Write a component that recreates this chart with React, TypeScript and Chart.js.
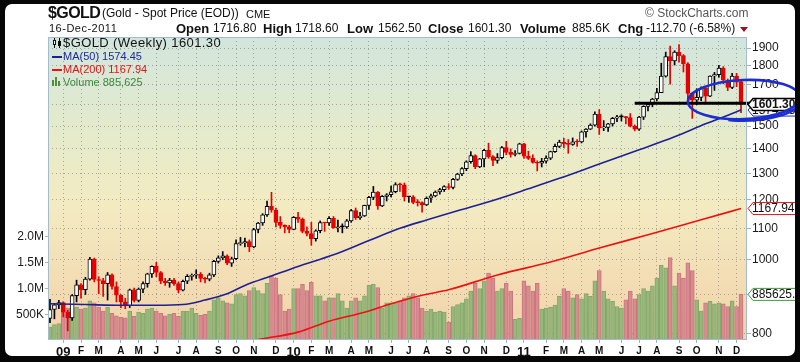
import React, { useEffect, useRef } from 'react';
import { Chart, registerables } from 'chart.js';

Chart.register(...registerables);

// ---- Weekly $GOLD data (week index 0 = 19-Dec-2008 ... 156 = 16-Dec-2011) ----
const OPEN = [
  837, 860, 872, 878, 853, 838, 897, 927, 913, 943,
  1002, 942, 939, 930, 955, 922, 898, 880, 870, 913,
  884, 915, 930, 958, 980, 962, 937, 932, 940, 930,
  912, 937, 951, 954, 957, 945, 943, 955, 995, 1006,
  1012, 990, 1003, 1050, 1052, 1057, 1040, 1096, 1118, 1146,
  1176, 1163, 1120, 1110, 1105, 1096, 1137, 1131, 1090, 1083,
  1066, 1092, 1119, 1118, 1134, 1102, 1105, 1105, 1125, 1161,
  1136, 1142, 1179, 1208, 1228, 1177, 1212, 1218, 1229, 1256,
  1255, 1210, 1210, 1190, 1189, 1181, 1205, 1214, 1228, 1237,
  1248, 1245, 1276, 1297, 1318, 1346, 1372, 1325, 1358, 1394,
  1367, 1352, 1363, 1405, 1385, 1376, 1380, 1421, 1369, 1360,
  1343, 1340, 1348, 1361, 1388, 1410, 1429, 1421, 1419, 1430,
  1429, 1474, 1486, 1504, 1556, 1492, 1494, 1510, 1536, 1542,
  1542, 1539, 1500, 1486, 1541, 1592, 1602, 1628, 1660, 1745,
  1852, 1828, 1877, 1857, 1812, 1656, 1623, 1636, 1682, 1642,
  1746, 1753, 1788, 1725, 1686, 1746, 1716.8,
];
const HIGH = [
  887, 876, 884, 880, 858, 900, 940, 930, 948, 1007,
  1005, 950, 945, 962, 958, 935, 900, 890, 915, 918,
  918, 935, 960, 982, 992, 965, 945, 945, 945, 935,
  940, 956, 958, 970, 962, 948, 960, 998, 1012, 1025,
  1015, 1008, 1062, 1070, 1068, 1062, 1100, 1120, 1150, 1195,
  1227, 1170, 1140, 1112, 1110, 1140, 1155, 1135, 1105, 1120,
  1095, 1125, 1120, 1140, 1140, 1128, 1115, 1130, 1165, 1170,
  1155, 1180, 1212, 1249, 1230, 1215, 1222, 1250, 1263, 1262,
  1262, 1212, 1215, 1200, 1192, 1210, 1220, 1232, 1242, 1252,
  1260, 1280, 1300, 1322, 1350, 1388, 1375, 1360, 1398, 1424,
  1372, 1380, 1410, 1432, 1400, 1392, 1424, 1423, 1390, 1375,
  1350, 1360, 1370, 1390, 1420, 1437, 1445, 1440, 1447, 1440,
  1478, 1488, 1510, 1566, 1577, 1525, 1512, 1540, 1549, 1552,
  1545, 1558, 1505, 1545, 1595, 1610, 1632, 1682, 1815, 1877,
  1912, 1885, 1921, 1863, 1818, 1660, 1680, 1690, 1685, 1747,
  1765, 1803, 1796, 1730, 1760, 1760, 1718.6,
];
const LOW = [
  826, 836, 862, 841, 806, 832, 880, 890, 900, 940,
  935, 902, 895, 885, 915, 880, 865, 862, 865, 880,
  880, 905, 920, 948, 950, 930, 925, 920, 925, 905,
  910, 930, 940, 945, 935, 932, 938, 950, 990, 1000,
  985, 980, 1000, 1045, 1040, 1025, 1037, 1085, 1110, 1140,
  1155, 1105, 1100, 1085, 1085, 1095, 1120, 1085, 1075, 1045,
  1058, 1085, 1090, 1110, 1100, 1088, 1085, 1100, 1120, 1130,
  1130, 1140, 1165, 1200, 1165, 1175, 1195, 1210, 1225, 1230,
  1195, 1190, 1185, 1177, 1155, 1178, 1190, 1210, 1220, 1230,
  1238, 1240, 1272, 1290, 1310, 1340, 1318, 1322, 1325, 1360,
  1330, 1340, 1358, 1375, 1365, 1370, 1378, 1360, 1355, 1340,
  1309, 1325, 1340, 1355, 1385, 1405, 1405, 1381, 1415, 1410,
  1425, 1450, 1484, 1500, 1462, 1479, 1476, 1500, 1520, 1523,
  1510, 1496, 1478, 1480, 1530, 1570, 1590, 1620, 1660, 1740,
  1703, 1805, 1820, 1767, 1616, 1535, 1600, 1620, 1604, 1640,
  1671, 1740, 1705, 1670, 1680, 1690, 1562.5,
];
const CLOSE = [
  860, 872, 878, 853, 838, 897, 927, 913, 943, 1002,
  942, 939, 930, 955, 922, 898, 880, 870, 913, 884,
  915, 930, 958, 980, 962, 937, 932, 940, 930, 912,
  937, 951, 954, 957, 945, 943, 955, 995, 1006, 1012,
  990, 1003, 1050, 1052, 1057, 1040, 1096, 1118, 1146, 1176,
  1163, 1120, 1110, 1105, 1096, 1137, 1131, 1090, 1083, 1066,
  1092, 1119, 1118, 1134, 1102, 1105, 1105, 1125, 1161, 1136,
  1142, 1179, 1208, 1228, 1177, 1212, 1218, 1229, 1256, 1255,
  1210, 1210, 1190, 1189, 1181, 1205, 1214, 1228, 1237, 1248,
  1245, 1276, 1297, 1318, 1346, 1372, 1325, 1358, 1394, 1367,
  1352, 1363, 1405, 1385, 1376, 1380, 1421, 1369, 1360, 1343,
  1340, 1348, 1361, 1388, 1410, 1429, 1421, 1419, 1430, 1429,
  1474, 1486, 1504, 1556, 1492, 1494, 1510, 1536, 1542, 1542,
  1539, 1500, 1486, 1541, 1592, 1602, 1628, 1660, 1745, 1852,
  1828, 1877, 1857, 1812, 1656, 1623, 1636, 1682, 1642, 1746,
  1753, 1788, 1725, 1686, 1746, 1713, 1601.3,
];
// weekly volume, thousands
const VOLUME = [
  250, 300, 320, 700, 620, 600, 640, 600, 620, 760,
  720, 640, 560, 640, 520, 470, 440, 430, 560, 460,
  540, 520, 600, 620, 560, 520, 470, 500, 520, 460,
  560, 560, 620, 520, 480, 500, 560, 780, 820, 760,
  720, 700, 880, 900, 860, 960, 1020, 960, 900, 1100,
  1250, 1200, 880, 560, 600, 1000, 1000, 1080, 960, 1120,
  860, 860, 760, 820, 820, 900, 760, 620, 760, 820,
  760, 860, 1060, 1080, 1020, 620, 720, 720, 720, 760,
  820, 860, 900, 820, 620, 560, 600, 540, 560, 540,
  350, 650, 690, 720, 800, 950, 1100, 1000, 1150, 1300,
  1200, 950, 1000, 1100, 950, 400, 420, 1150, 1050, 950,
  1100, 600, 620, 640, 680, 850, 1000, 950, 820, 880,
  800, 900, 850, 1150, 1350, 950, 800, 750, 650, 620,
  780, 950, 800, 880, 1000, 950, 1050, 1200, 1450, 1400,
  1600, 1050, 1300, 1200, 1500, 1350, 780, 560, 720, 750,
  700, 720, 700, 650, 760, 650, 885.625,
];
const MA50_AT = [0, 8, 16, 24, 30, 35, 40, 44, 50, 56, 64, 72, 79, 85, 92, 100, 108, 115, 124, 133, 141, 148, 156];
const MA50 = [875, 873, 871, 871, 873, 885, 902, 925, 952, 980, 1015, 1060, 1100, 1128, 1160, 1197, 1240, 1280, 1337, 1396, 1452, 1510, 1574.45];
const MA200_AT = [40, 47, 56, 63, 71, 77, 84, 90, 101, 113, 124, 135, 147, 156];
const MA200 = [770, 785, 803, 830, 853, 875, 898, 913, 955, 993, 1036, 1079, 1129, 1167.94];

const MONTH_TICKS = [3, 7, 11, 16, 20, 24, 29, 33, 38, 42, 46, 51, 55, 59, 63, 68, 72, 77, 81, 85, 90, 94, 98, 103, 107, 112, 116, 120, 124, 129, 133, 137, 142, 146, 151, 155];
const MONTH_LABELS = ['09', 'F', 'M', 'A', 'M', 'J', 'J', 'A', 'S', 'O', 'N', 'D', '10', 'F', 'M', 'A', 'M', 'J', 'J', 'A', 'S', 'O', 'N', 'D', '11', 'F', 'M', 'A', 'M', 'J', 'J', 'A', 'S', 'O', 'N', 'D'];
const PRICE_TICKS = [800, 900, 1000, 1100, 1200, 1300, 1400, 1500, 1600, 1700, 1800, 1900];
const PRICE_TICK_LABELS = ['800', '', '1000', '1100', '1200', '1300', '1400', '1500', '', '1700', '1800', '1900'];
const VOLUME_TICKS = [500, 1000, 1500, 2000];
const VOLUME_TICK_LABELS = ['500K', '1.0M', '1.5M', '2.0M'];

const SUPPORT_LEVEL = 1607;
const SUPPORT_FROM = 132;
const SUPPORT_TO = 158;
// hand-drawn ellipse annotation (week index / price bounds)
const ELLIPSE_IDX = [144, 169.3];
const ELLIPSE_PRICE = [1532, 1725];

// ---- layout constants ----
const X_MIN = -0.45;
const X_MAX = 157.35;
const PRICE_MIN = 784;
const PRICE_MAX = 1965;
const VOL_MAX = 5883;
const FONT = 'Arial, "Liberation Sans", Helvetica, sans-serif';

const IDX = CLOSE.map((_, i) => i);
const UP = IDX.map((i) => (i === 0 ? CLOSE[0] >= OPEN[0] : CLOSE[i] >= CLOSE[i - 1]));
const RED = '#e60000';
const CANDLE_COLOR = IDX.map((i) => (UP[i] ? '#000000' : RED));
const BODY_FILL = IDX.map((i) => (CLOSE[i] > OPEN[i] ? '#ffffff' : CANDLE_COLOR[i]));
const VOL_FILL = IDX.map((i) => (UP[i] ? '#98b77c' : '#d98b90'));
const VOL_EDGE = IDX.map((i) => (UP[i] ? '#84a768' : '#c8777d'));

function tag(ctx: any, y: number, text: string, stroke: string, bold: boolean, lw: number) {
  const x0 = 748;
  const h = 12;
  ctx.beginPath();
  ctx.moveTo(x0, y);
  ctx.lineTo(x0 + 5, y - h / 2);
  ctx.lineTo(806, y - h / 2);
  ctx.lineTo(806, y + h / 2);
  ctx.lineTo(x0 + 5, y + h / 2);
  ctx.closePath();
  ctx.fillStyle = '#ffffff';
  ctx.fill();
  ctx.strokeStyle = stroke;
  ctx.lineWidth = lw;
  ctx.stroke();
  ctx.fillStyle = '#111';
  ctx.font = (bold ? 'bold ' : '') + '12px ' + FONT;
  ctx.textAlign = 'left';
  ctx.textBaseline = 'middle';
  ctx.fillText(text, x0 + 4, y + 0.5);
}

const decorPlugin = {
  id: 'decor',
  beforeDraw(chart: any) {
    const { ctx, chartArea: a } = chart;
    ctx.save();
    ctx.fillStyle = '#ffffff';
    ctx.fillRect(0, 0, chart.width, chart.height);
    const g = ctx.createLinearGradient(0, a.top, 0, a.bottom);
    g.addColorStop(0, '#d2e5dd');
    g.addColorStop(0.3, '#e4ebcc');
    g.addColorStop(0.55, '#f3ebc2');
    g.addColorStop(1, '#f2d2a9');
    ctx.fillStyle = g;
    ctx.fillRect(a.left, a.top, a.right - a.left, a.bottom - a.top);
    ctx.restore();
  },
  afterDraw(chart: any) {
    const { ctx, chartArea: a, scales } = chart;
    const ys = scales.y;
    const vs = scales.yVol;
    const xs = scales.x;
    ctx.save();
    // plot border
    ctx.strokeStyle = '#a3bccb';
    ctx.lineWidth = 1;
    ctx.strokeRect(a.left + 0.5, a.top + 0.5, a.right - a.left - 1, a.bottom - a.top - 1);

    const txt = (s: string, x: number, y: number, font: string, color = '#111', spacing = '0px') => {
      ctx.font = font;
      ctx.fillStyle = color;
      ctx.textAlign = 'left';
      ctx.textBaseline = 'middle';
      (ctx as any).letterSpacing = spacing;
      ctx.fillText(s, x, y);
      (ctx as any).letterSpacing = '0px';
    };

    // header line 1
    txt('$GOLD', 48, 14, 'bold 16px ' + FONT, '#111', '-0.6px');
    txt('(Gold - Spot Price (EOD))', 102, 14, '12px ' + FONT);
    txt('CME', 246, 15, '11px ' + FONT);
    txt('\u00A9 StockCharts.com', 645, 14, '12px ' + FONT, '#555');
    // header line 2
    txt('16-Dec-2011', 49, 29, '11px ' + FONT, '#111', '0.5px');
    txt('Open', 176, 29, 'bold 13px ' + FONT);
    txt('1716.80', 213, 29, '12px ' + FONT);
    txt('High', 263, 29, 'bold 13px ' + FONT);
    txt('1718.60', 295, 29, '12px ' + FONT);
    txt('Low', 347, 29, 'bold 13px ' + FONT);
    txt('1562.50', 378, 29, '12px ' + FONT);
    txt('Close', 428, 29, 'bold 13px ' + FONT);
    txt('1601.30', 468, 29, '12px ' + FONT);
    txt('Volume', 520, 29, 'bold 13px ' + FONT);
    txt('885.6K', 572, 29, '12px ' + FONT);
    txt('Chg', 618, 29, 'bold 13px ' + FONT);
    txt('-112.70 (-6.58%)', 646, 29, '12px ' + FONT);
    ctx.fillStyle = '#9a1028';
    ctx.beginPath();
    ctx.moveTo(740, 27);
    ctx.lineTo(748, 27);
    ctx.lineTo(744, 32);
    ctx.closePath();
    ctx.fill();

    // legend
    ctx.strokeStyle = '#111';
    ctx.fillStyle = '#111';
    ctx.lineWidth = 1;
    ctx.beginPath();
    ctx.moveTo(54.5, 38); ctx.lineTo(54.5, 48);
    ctx.moveTo(59.5, 38); ctx.lineTo(59.5, 48);
    ctx.stroke();
    ctx.fillStyle = '#fff';
    ctx.fillRect(53, 40, 3, 5);
    ctx.strokeRect(53.5, 40.5, 2, 4);
    ctx.fillStyle = '#111';
    ctx.fillRect(58, 41, 3, 5);
    txt('$GOLD (Weekly) 1601.30', 63, 43, '13px ' + FONT, '#111', '0.4px');
    ctx.fillStyle = '#1f1f96';
    ctx.fillRect(52, 56, 10, 2);
    txt('MA(50) 1574.45', 63, 57, '11px ' + FONT, '#1f2a9a');
    ctx.fillStyle = '#ee1111';
    ctx.fillRect(52, 69, 10, 2);
    txt('MA(200) 1167.94', 63, 70, '11px ' + FONT, '#e01515');
    ctx.fillStyle = '#4f8f3f';
    ctx.fillRect(52, 80, 2, 6);
    ctx.fillRect(55, 77, 2, 9);
    ctx.fillRect(58, 81, 2, 5);
    txt('Volume 885,625', 63, 83, '11px ' + FONT, '#3d8a3d');

    // right-side value tags
    const lastVol = VOLUME[VOLUME.length - 1];
    tag(ctx, vs.getPixelForValue(lastVol), (lastVol * 1000).toFixed(1), '#3e9a3e', false, 1);
    tag(ctx, ys.getPixelForValue(MA200[MA200.length - 1]), MA200[MA200.length - 1].toFixed(2), '#e01515', false, 1);
    tag(ctx, ys.getPixelForValue(MA50[MA50.length - 1]), MA50[MA50.length - 1].toFixed(2), '#2030b0', false, 1);
    tag(ctx, ys.getPixelForValue(CLOSE[CLOSE.length - 1]), CLOSE[CLOSE.length - 1].toFixed(2), '#000', true, 1.5);

    // hand-drawn ellipse
    const ex0 = xs.getPixelForValue(ELLIPSE_IDX[0]);
    const ex1 = xs.getPixelForValue(ELLIPSE_IDX[1]);
    const ey0 = ys.getPixelForValue(ELLIPSE_PRICE[1]);
    const ey1 = ys.getPixelForValue(ELLIPSE_PRICE[0]);
    const cx = (ex0 + ex1) / 2;
    const cy = (ey0 + ey1) / 2;
    const rx = (ex1 - ex0) / 2;
    const ry = (ey1 - ey0) / 2;
    ctx.strokeStyle = '#1c2ed0';
    ctx.lineWidth = 2.6;
    ctx.beginPath();
    ctx.ellipse(cx, cy, rx, ry, -0.04, 0, Math.PI * 2);
    ctx.stroke();
    ctx.beginPath();
    ctx.ellipse(cx + 2, cy + 1.5, rx, ry, -0.03, 0.25, 1.9);
    ctx.stroke();

    // black frame
    ctx.fillStyle = '#070707';
    ctx.beginPath();
    ctx.rect(0, 0, chart.width, chart.height);
    ctx.roundRect(5, 4, 790, 352, 7);
    ctx.fill('evenodd');
    ctx.restore();
  },
};

export default function App() {
  const ref = useRef<HTMLCanvasElement>(null);
  useEffect(() => {
    const config: any = {
      type: 'bar',
      data: {
        datasets: [
          {
            type: 'line',
            label: 'support',
            data: [
              { x: SUPPORT_FROM, y: SUPPORT_LEVEL },
              { x: SUPPORT_TO, y: SUPPORT_LEVEL },
            ],
            borderColor: '#000',
            borderWidth: 3,
            pointRadius: 0,
            clip: false,
            yAxisID: 'y',
            order: 0,
          },
          {
            type: 'line',
            label: 'MA(50)',
            data: MA50_AT.map((x, k) => ({ x, y: MA50[k] })),
            borderColor: '#1f1f96',
            borderWidth: 1.6,
            pointRadius: 0,
            cubicInterpolationMode: 'monotone',
            yAxisID: 'y',
            order: 1,
          },
          {
            type: 'line',
            label: 'MA(200)',
            data: MA200_AT.map((x, k) => ({ x, y: MA200[k] })),
            borderColor: '#ee1111',
            borderWidth: 1.6,
            pointRadius: 0,
            cubicInterpolationMode: 'monotone',
            yAxisID: 'y',
            order: 2,
          },
          {
            type: 'bar',
            label: 'body',
            data: IDX.map((i) => ({ x: i, y: [OPEN[i], CLOSE[i]] })),
            backgroundColor: BODY_FILL,
            borderColor: CANDLE_COLOR,
            borderWidth: 1,
            borderSkipped: false,
            barThickness: 4,
            minBarLength: 1,
            grouped: false,
            yAxisID: 'y',
            order: 3,
          },
          {
            type: 'bar',
            label: 'wick',
            data: IDX.map((i) => ({ x: i, y: [LOW[i], HIGH[i]] })),
            backgroundColor: CANDLE_COLOR,
            borderWidth: 0,
            barThickness: 1,
            grouped: false,
            yAxisID: 'y',
            order: 4,
          },
          {
            type: 'bar',
            label: 'Volume',
            data: IDX.map((i) => ({ x: i, y: VOLUME[i] })),
            backgroundColor: VOL_FILL,
            borderColor: VOL_EDGE,
            borderWidth: 1,
            borderSkipped: 'start',
            barThickness: 4,
            grouped: false,
            yAxisID: 'yVol',
            order: 5,
          },
        ],
      },
      options: {
        responsive: false,
        animation: false,
        devicePixelRatio: 1,
        events: [],
        layout: { padding: { top: 37, left: 0, right: 0, bottom: 0 } },
        plugins: { legend: { display: false }, tooltip: { enabled: false }, title: { display: false } },
        scales: {
          x: {
            type: 'linear',
            position: 'bottom',
            min: X_MIN,
            max: X_MAX,
            offset: false,
            afterBuildTicks: (s: any) => {
              s.ticks = MONTH_TICKS.map((v) => ({ value: v }));
            },
            afterFit: (s: any) => {
              s.height = 22;
            },
            grid: {
              offset: false,
              color: 'rgba(100,100,100,0.5)',
              lineWidth: 1,
              drawTicks: true,
              tickLength: 3,
              tickColor: '#9db6c6',
            },
            border: { display: false, dash: [1, 3] },
            ticks: {
              autoSkip: false,
              maxRotation: 0,
              minRotation: 0,
              padding: 2,
              color: '#111',
              font: (c: any) => {
                const k = c.tick ? MONTH_TICKS.indexOf(c.tick.value) : -1;
                const lbl = k >= 0 ? MONTH_LABELS[k] : '';
                return /^\d\d$/.test(lbl)
                  ? { family: FONT, size: 13, weight: 'bold' }
                  : { family: FONT, size: 10, weight: 'bold' };
              },
              callback: (v: any) => {
                const k = MONTH_TICKS.indexOf(v);
                return k >= 0 ? MONTH_LABELS[k] : '';
              },
            },
          },
          y: {
            type: 'logarithmic',
            position: 'right',
            min: PRICE_MIN,
            max: PRICE_MAX,
            afterBuildTicks: (s: any) => {
              s.ticks = PRICE_TICKS.map((v) => ({ value: v }));
            },
            afterFit: (s: any) => {
              s.width = 53;
            },
            grid: {
              color: 'rgba(100,100,100,0.5)',
              lineWidth: 1,
              drawTicks: true,
              tickLength: 4,
              tickColor: '#9db6c6',
            },
            border: { display: false, dash: [1, 3] },
            ticks: {
              autoSkip: false,
              padding: 1,
              color: '#1a1a1a',
              font: { family: FONT, size: 12 },
              callback: (v: any) => {
                const k = PRICE_TICKS.indexOf(v);
                return k >= 0 ? PRICE_TICK_LABELS[k] : '';
              },
            },
          },
          yVol: {
            type: 'linear',
            position: 'left',
            min: 0,
            max: VOL_MAX,
            afterBuildTicks: (s: any) => {
              s.ticks = VOLUME_TICKS.map((v) => ({ value: v }));
            },
            afterFit: (s: any) => {
              s.width = 48;
            },
            grid: { drawOnChartArea: false, drawTicks: true, tickLength: 3, tickColor: '#9db6c6' },
            border: { display: false },
            ticks: {
              autoSkip: false,
              padding: 1,
              color: '#1a1a1a',
              font: { family: FONT, size: 12 },
              callback: (v: any) => {
                const k = VOLUME_TICKS.indexOf(v);
                return k >= 0 ? VOLUME_TICK_LABELS[k] : '';
              },
            },
          },
        },
      },
      plugins: [decorPlugin],
    };
    const chart = new Chart(ref.current as HTMLCanvasElement, config);
    return () => chart.destroy();
  }, []);
  return (
    <div style={{ position: 'fixed', left: 0, top: 0, width: 800, height: 362, background: '#000' }}>
      <canvas ref={ref} width={800} height={362} style={{ display: 'block', width: 800, height: 362 }} />
    </div>
  );
}
